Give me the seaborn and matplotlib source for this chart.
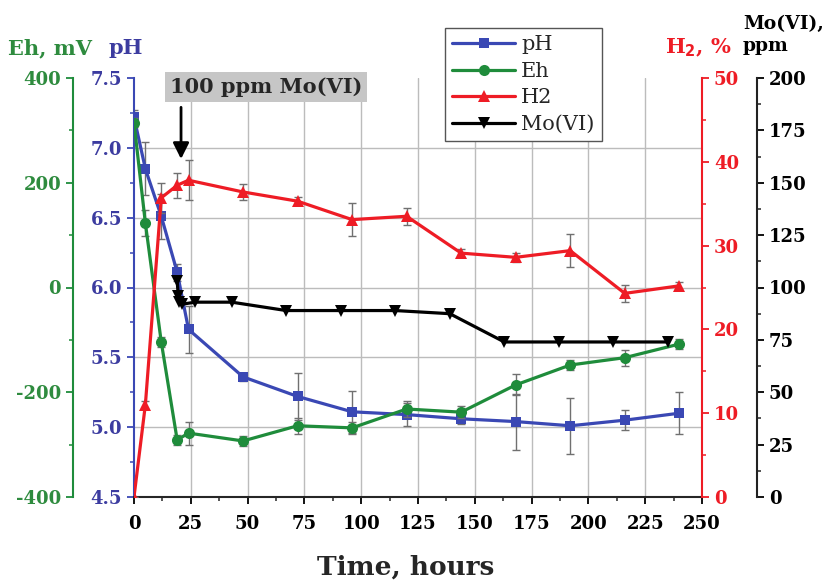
import matplotlib
matplotlib.use("Agg")
import matplotlib.pyplot as plt
import seaborn as sns
import pandas as pd
from matplotlib.ticker import MultipleLocator
from matplotlib.lines import Line2D

# ---------------- data ----------------
time_h = [0, 5, 12, 19, 24, 48, 72, 96, 120, 144, 168, 192, 216, 240]
ph = [7.22, 6.85, 6.51, 6.11, 5.70, 5.36, 5.22, 5.11, 5.09, 5.06, 5.04, 5.01, 5.05, 5.10]
ph_err = [0.05, 0.19, 0.16, 0.06, 0.17, 0.03, 0.17, 0.15, 0.08, 0.04, 0.20, 0.20, 0.07, 0.15]
eh = [315, 123, -104, -291, -278, -293, -264, -268, -232, -238, -186, -148, -134, -108]
eh_err = [8, 25, 10, 10, 22, 10, 15, 12, 15, 12, 20, 10, 15, 10]
h2 = [0, 11.0, 35.7, 37.2, 37.8, 36.4, 35.3, 33.1, 33.5, 29.1, 28.6, 29.4, 24.3, 25.2]
h2_err = [0, 0.5, 1.8, 1.5, 2.4, 1.0, 0.5, 2.0, 1.0, 0.5, 0.5, 2.0, 1.0, 0.5]
mo_time = [19, 19.5, 20, 21, 27, 43, 67, 91, 115, 139, 163, 187, 211, 235]
mo = [103, 96, 93, 92, 93, 93, 89, 89, 89, 87.5, 74, 74, 74, 74]

series_names = ["pH", "Eh", "H2", "Mo(VI)"]
c_ph, c_eh, c_h2, c_mo = "#3a48b4", "#1f8c3b", "#ee1c25", "#000000"
c_ph_lab, c_eh_lab = "#3c3ca0", "#2e8b3e"

sns.set_style("ticks")
plt.rcParams["font.family"] = ["DejaVu Serif"]
plt.rcParams["font.weight"] = "bold"
plt.rcParams["axes.unicode_minus"] = False

df = pd.DataFrame({"time": time_h, "pH": ph, "Eh": eh, "H2": h2})
df_mo = pd.DataFrame({"time": mo_time, "Mo": mo})

fig = plt.figure(figsize=(8.3, 5.83), dpi=100)
ax = fig.add_axes([134 / 830, 1 - 497 / 583, 568 / 830, 419 / 583])
ax_eh = ax.twinx()
ax_h2 = ax.twinx()
ax_mo = ax.twinx()

tick_fs = 13
err_kw = dict(fmt="none", ecolor="#707070", elinewidth=1, capsize=3, capthick=1, zorder=1)

# pH (host)
ax.errorbar(time_h, ph, yerr=ph_err, **err_kw)
sns.lineplot(data=df, x="time", y="pH", ax=ax, color=c_ph, marker="s", markersize=7,
             markeredgewidth=0, linewidth=2.3, legend=False, estimator=None, sort=False)
ax.set_xlim(0, 250)
ax.set_ylim(4.5, 7.5)
ax.xaxis.set_major_locator(MultipleLocator(25))
ax.xaxis.set_minor_locator(MultipleLocator(12.5))
ax.yaxis.set_major_locator(MultipleLocator(0.5))
ax.yaxis.set_minor_locator(MultipleLocator(0.25))
ax.yaxis.set_major_formatter(matplotlib.ticker.FormatStrFormatter("%.1f"))
ax.set_xlabel("Time, hours", fontsize=19, fontweight="bold")
ax.xaxis.set_label_coords((406 - 134) / 568, -0.138)
ax.set_ylabel("")
for x in range(25, 250, 25):
    ax.axvline(x, color="#bcbcbc", lw=1, zorder=0)
for y in [5.0, 5.5, 6.0, 6.5, 7.0]:
    ax.axhline(y, color="#bcbcbc", lw=1, zorder=0)
ax.spines["top"].set_visible(False)
ax.spines["right"].set_visible(False)
ax.spines["left"].set_color(c_ph)
ax.spines["left"].set_linewidth(1.5)
ax.spines["bottom"].set_linewidth(1.5)
ax.tick_params(axis="y", colors=c_ph_lab, labelsize=tick_fs, length=5, width=1.3, color=c_ph)
ax.tick_params(axis="y", which="minor", length=3, width=1.1, color=c_ph)
ax.tick_params(axis="x", labelsize=tick_fs, length=5, width=1.3, colors="black", pad=8)
ax.tick_params(axis="x", which="minor", length=3, width=1.1)

# Eh
ax_eh.errorbar(time_h, eh, yerr=eh_err, **err_kw)
sns.lineplot(data=df, x="time", y="Eh", ax=ax_eh, color=c_eh, marker="o", markersize=8,
             markeredgewidth=0, linewidth=2.3, legend=False, estimator=None, sort=False)
ax_eh.set_ylim(-400, 400)
ax_eh.set_ylabel("")
ax_eh.yaxis.tick_left()
ax_eh.yaxis.set_label_position("left")
ax_eh.spines["left"].set_position(("axes", -0.1074))
ax_eh.spines["left"].set_visible(True)
ax_eh.spines["left"].set_color(c_eh)
ax_eh.spines["left"].set_linewidth(1.5)
for s in ["right", "top", "bottom"]:
    ax_eh.spines[s].set_visible(False)
ax_eh.yaxis.set_major_locator(MultipleLocator(200))
ax_eh.yaxis.set_minor_locator(MultipleLocator(100))
ax_eh.tick_params(axis="y", colors=c_eh_lab, labelsize=tick_fs, length=5, width=1.3, color=c_eh)
ax_eh.tick_params(axis="y", which="minor", length=3, width=1.1, color=c_eh)

# H2
ax_h2.errorbar(time_h, h2, yerr=h2_err, **err_kw)
sns.lineplot(data=df, x="time", y="H2", ax=ax_h2, color=c_h2, marker="^", markersize=8,
             markeredgewidth=0, linewidth=2.3, legend=False, estimator=None, sort=False)
ax_h2.set_ylim(0, 50)
ax_h2.set_ylabel("")
for s in ["left", "top", "bottom"]:
    ax_h2.spines[s].set_visible(False)
ax_h2.spines["right"].set_color(c_h2)
ax_h2.spines["right"].set_linewidth(1.5)
ax_h2.yaxis.set_major_locator(MultipleLocator(10))
ax_h2.yaxis.set_minor_locator(MultipleLocator(5))
ax_h2.tick_params(axis="y", colors=c_h2, labelsize=tick_fs, length=5, width=1.3, color=c_h2)
ax_h2.tick_params(axis="y", which="minor", length=3, width=1.1, color=c_h2)

# Mo(VI)
sns.lineplot(data=df_mo, x="time", y="Mo", ax=ax_mo, color=c_mo, marker="v", markersize=8,
             markeredgewidth=0, linewidth=2.3, legend=False, estimator=None, sort=False)
ax_mo.set_ylim(0, 200)
ax_mo.set_ylabel("")
for s in ["left", "top", "bottom"]:
    ax_mo.spines[s].set_visible(False)
ax_mo.spines["right"].set_position(("axes", 1.0968))
ax_mo.spines["right"].set_color("#222222")
ax_mo.spines["right"].set_linewidth(1.5)
ax_mo.yaxis.set_major_locator(MultipleLocator(25))
ax_mo.yaxis.set_minor_locator(MultipleLocator(12.5))
ax_mo.tick_params(axis="y", colors="black", labelsize=tick_fs, length=5, width=1.3)
ax_mo.tick_params(axis="y", which="minor", length=3, width=1.1)

for a in (ax, ax_eh, ax_h2, ax_mo):
    for lab in a.get_xticklabels() + a.get_yticklabels():
        lab.set_fontweight("bold")

# axis titles
fig.text(50 / 830, 1 - 48 / 583, "Eh, mV", color=c_eh_lab, fontsize=15, fontweight="bold",
         ha="center", va="center")
fig.text(126 / 830, 1 - 48 / 583, "pH", color=c_ph_lab, fontsize=15, fontweight="bold",
         ha="center", va="center")
fig.text(698 / 830, 1 - 48 / 583, "H$_\\mathbf{2}$, %", color=c_h2, fontsize=15, fontweight="bold",
         ha="center", va="center")
fig.text(743 / 830, 1 - 35 / 583, "Mo(VI),\nppm", color="black", fontsize=13.5, fontweight="bold",
         ha="left", va="center", linespacing=1.25)

# annotation
fig.text(266 / 830, 1 - 87 / 583, "100 ppm Mo(VI)", fontsize=15, fontweight="bold",
         ha="center", va="center",
         bbox=dict(boxstyle="square,pad=0.25", facecolor="#c6c6c6", edgecolor="none"))
ax.annotate("", xy=(20.7, 6.9), xytext=(20.7, 7.31),
            arrowprops=dict(arrowstyle="-|>", color="black", lw=2, mutation_scale=24),
            annotation_clip=False)

# legend
handles = [
    Line2D([], [], color=c_ph, marker="s", markersize=7, lw=2.3, markeredgewidth=0),
    Line2D([], [], color=c_eh, marker="o", markersize=8, lw=2.3, markeredgewidth=0),
    Line2D([], [], color=c_h2, marker="^", markersize=8, lw=2.3, markeredgewidth=0),
    Line2D([], [], color=c_mo, marker="v", markersize=8, lw=2.3, markeredgewidth=0),
]
leg = fig.legend(handles, series_names, loc="upper left",
                 bbox_to_anchor=(445 / 830, 1 - 28 / 583), borderaxespad=0,
                 frameon=True, fancybox=False,
                 edgecolor="#555555", framealpha=1, prop=dict(family="DejaVu Serif", size=15,
                                                              weight="normal"),
                 handlelength=3, borderpad=0.35, labelspacing=0.36, handletextpad=0.3)
leg.get_frame().set_linewidth(1)

fig.savefig("out.png", dpi=100)
